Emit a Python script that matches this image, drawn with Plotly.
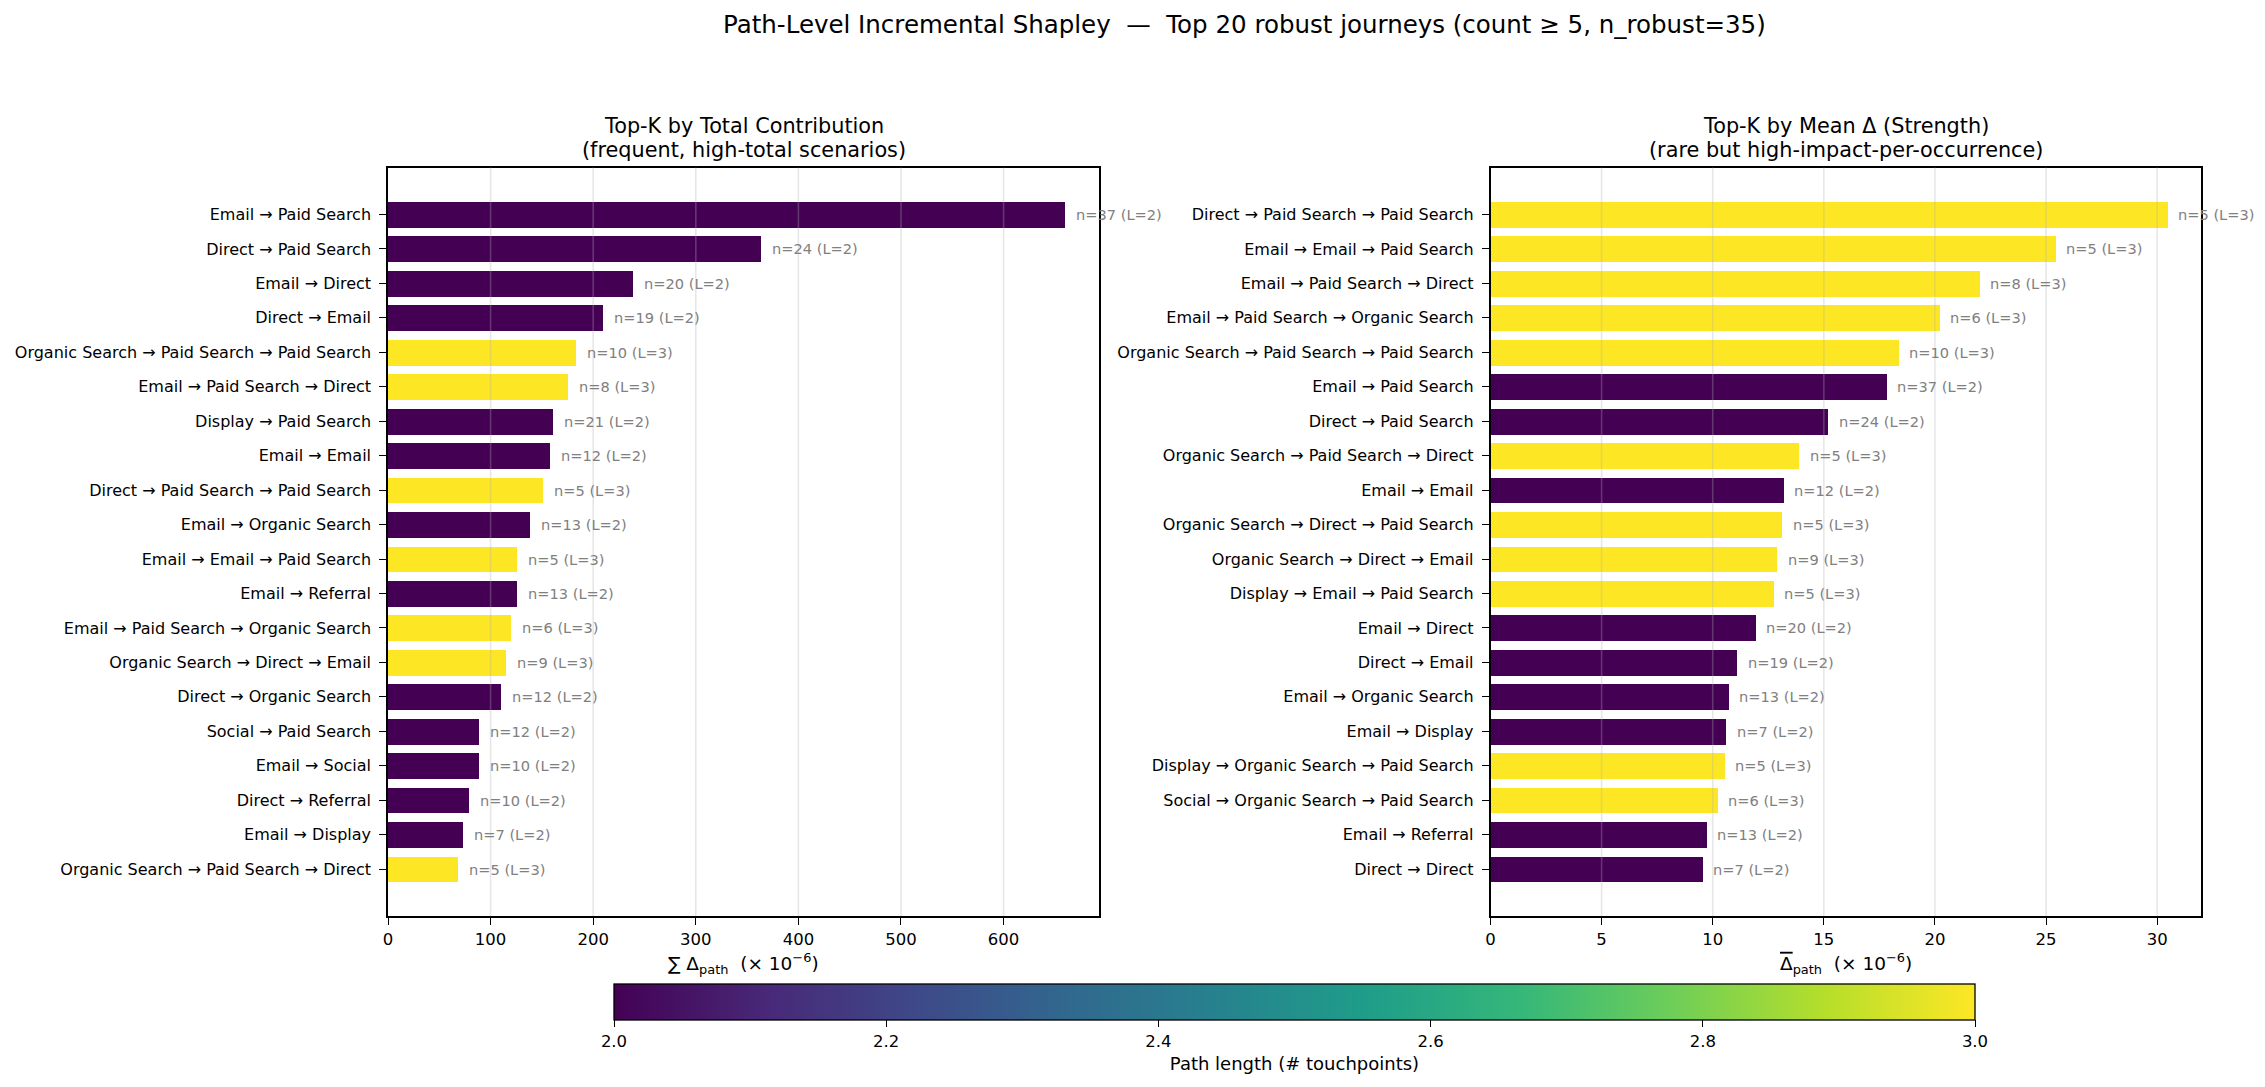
import plotly.graph_objects as go

# ---------------- data ----------------
left_paths = [
    "Email → Paid Search", "Direct → Paid Search", "Email → Direct", "Direct → Email",
    "Organic Search → Paid Search → Paid Search", "Email → Paid Search → Direct",
    "Display → Paid Search", "Email → Email", "Direct → Paid Search → Paid Search",
    "Email → Organic Search", "Email → Email → Paid Search", "Email → Referral",
    "Email → Paid Search → Organic Search", "Organic Search → Direct → Email",
    "Direct → Organic Search", "Social → Paid Search", "Email → Social",
    "Direct → Referral", "Email → Display", "Organic Search → Paid Search → Direct",
]
left_totals = [660.0, 364.0, 239.0, 210.0, 183.4, 175.3, 161.0, 157.8, 151.1, 138.6,
               125.6, 125.6, 119.7, 114.8, 110.3, 88.8, 88.8, 78.9, 73.1, 68.2]
left_n = [37, 24, 20, 19, 10, 8, 21, 12, 5, 13, 5, 13, 6, 9, 12, 12, 10, 10, 7, 5]
left_L = [2, 2, 2, 2, 3, 3, 2, 2, 3, 2, 3, 2, 3, 3, 2, 2, 2, 2, 2, 3]

right_paths = [
    "Direct → Paid Search → Paid Search", "Email → Email → Paid Search",
    "Email → Paid Search → Direct", "Email → Paid Search → Organic Search",
    "Organic Search → Paid Search → Paid Search", "Email → Paid Search",
    "Direct → Paid Search", "Organic Search → Paid Search → Direct", "Email → Email",
    "Organic Search → Direct → Paid Search", "Organic Search → Direct → Email",
    "Display → Email → Paid Search", "Email → Direct", "Direct → Email",
    "Email → Organic Search", "Email → Display", "Display → Organic Search → Paid Search",
    "Social → Organic Search → Paid Search", "Email → Referral", "Direct → Direct",
]
right_means = [30.45, 25.41, 22.0, 20.2, 18.35, 17.81, 15.17, 13.86, 13.18, 13.1,
               12.87, 12.73, 11.92, 11.07, 10.70, 10.58, 10.52, 10.21, 9.71, 9.52]
right_n = [5, 5, 8, 6, 10, 37, 24, 5, 12, 5, 9, 5, 20, 19, 13, 7, 5, 6, 13, 7]
right_L = [3, 3, 3, 3, 3, 2, 2, 3, 2, 3, 3, 3, 2, 2, 2, 2, 3, 3, 2, 2]

left_xticks = [0, 100, 200, 300, 400, 500, 600]
right_xticks = [0, 5, 10, 15, 20, 25, 30]
cbar_ticks = [2.0, 2.2, 2.4, 2.6, 2.8, 3.0]
cbar_ticktext = ["2.0", "2.2", "2.4", "2.6", "2.8", "3.0"]

suptitle = "Path-Level Incremental Shapley  —  Top 20 robust journeys (count ≥ 5, n_robust=35)"
left_title = ["Top-K by Total Contribution", "(frequent, high-total scenarios)"]
right_title = ["Top-K by Mean Δ (Strength)", "(rare but high-impact-per-occurrence)"]
left_xlabel = "∑ Δ<sub>path</sub>  (× 10<sup>−6</sup>)"
right_xlabel = ("<span style=\"text-decoration:overline\">Δ</span>"
                "<sub>path</sub>  (× 10<sup>−6</sup>)")
cbar_label = "Path length (# touchpoints)"

# ---------------- figure ----------------
W, H = 2265, 1087
FONT = "DejaVu Sans"
BAR_H = 0.75
fig = go.Figure()

cbar = dict(
    orientation="h", x=1294.5 / W, xanchor="center", y=1 - 983.5 / H, yanchor="top",
    len=0.601, lenmode="fraction", thickness=36, thicknessmode="pixels",
    xpad=0, ypad=0, outlinewidth=1.3, outlinecolor="black",
    tickvals=cbar_ticks, ticktext=cbar_ticktext, ticks="outside", ticklen=7,
    tickwidth=1.2, tickcolor="black",
    tickfont=dict(size=16.5, family=FONT, color="black"),
    title=dict(text=cbar_label, side="bottom", font=dict(size=18, family=FONT, color="black")),
)


def add_panel(paths, vals, ns, Ls, xa, ya, showscale):
    ys = list(range(len(paths)))
    marker = dict(color=Ls, colorscale="Viridis", cmin=2, cmax=3, line=dict(width=0),
                  showscale=showscale)
    if showscale:
        marker["colorbar"] = cbar
    fig.add_trace(go.Bar(x=vals, y=ys, orientation="h", width=BAR_H, marker=marker,
                         xaxis=xa, yaxis=ya, hoverinfo="skip", showlegend=False))
    for v, y, n, L in zip(vals, ys, ns, Ls):
        fig.add_annotation(x=v, y=y, xref=xa, yref=ya, text=f"n={n} (L={L})",
                           xanchor="left", yanchor="middle", xshift=9, showarrow=False,
                           font=dict(size=14.6, color="#808080", family=FONT))


add_panel(left_paths, left_totals, left_n, left_L, "x", "y", True)
add_panel(right_paths, right_means, right_n, right_L, "x2", "y2", False)

n_bars = len(left_paths)
span = (n_bars - 1) + BAR_H
ylo = -BAR_H / 2 - 0.05 * span
yhi = (n_bars - 1) + BAR_H / 2 + 0.05 * span

ydom = [1 - 916 / H, 1 - 167.6 / H]
common_x = dict(ticks="outside", ticklen=7, tickwidth=1.2, tickcolor="black",
                showline=True, mirror=True, linecolor="black", linewidth=1.5,
                showgrid=False, zeroline=False,
                tickfont=dict(size=16.5, family=FONT, color="black"))
common_y = dict(ticks="outside", ticklen=7, tickwidth=1.2, tickcolor="black",
                showline=True, mirror=True, linecolor="black", linewidth=1.5,
                showgrid=False, zeroline=False, range=[yhi, ylo], domain=ydom,
                ticklabelstandoff=5,
                tickfont=dict(size=16.0, family=FONT, color="black"))

fig.update_layout(
    width=W, height=H, margin=dict(l=0, r=0, t=0, b=0, autoexpand=False),
    paper_bgcolor="white", plot_bgcolor="white",
    font=dict(family=FONT, color="black"),
    xaxis=dict(domain=[388 / W, 1099 / W], anchor="y", range=[0, max(left_totals) * 1.05],
               tickvals=left_xticks, **common_x),
    yaxis=dict(anchor="x", tickvals=list(range(n_bars)), ticktext=left_paths, **common_y),
    xaxis2=dict(domain=[1490.5 / W, 2201 / W], anchor="y2", range=[0, max(right_means) * 1.05],
                tickvals=right_xticks, **common_x),
    yaxis2=dict(anchor="x2", tickvals=list(range(n_bars)), ticktext=right_paths, **common_y),
    bargap=0,
)

# grid lines drawn over the bars
for xa, ticks in (("x", left_xticks), ("x2", right_xticks)):
    ya = "y" if xa == "x" else "y2"
    for v in ticks[1:]:
        fig.add_shape(type="line", xref=xa, yref=f"{ya} domain", x0=v, x1=v, y0=0, y1=1,
                      line=dict(color="rgba(176,176,176,0.3)", width=1.6), layer="above")

# titles
fig.add_annotation(text=suptitle, xref="paper", yref="paper", x=1244 / W, y=1 - 24 / H,
                   xanchor="center", yanchor="middle", showarrow=False,
                   font=dict(size=24.5, family=FONT, color="black"))
for xa, lines in (("x", left_title), ("x2", right_title)):
    for line, ypix in zip(lines, (126, 150)):
        fig.add_annotation(text=line, xref=f"{xa} domain", yref="paper", x=0.5, y=1 - ypix / H,
                           xanchor="center", yanchor="middle", showarrow=False,
                           font=dict(size=20.8, family=FONT, color="black"))
for xa, lab in (("x", left_xlabel), ("x2", right_xlabel)):
    fig.add_annotation(text=lab, xref=f"{xa} domain", yref="paper", x=0.5, y=1 - 963 / H,
                       xanchor="center", yanchor="middle", showarrow=False,
                       font=dict(size=18.5, family=FONT, color="black"))

fig.write_html("out.html")
